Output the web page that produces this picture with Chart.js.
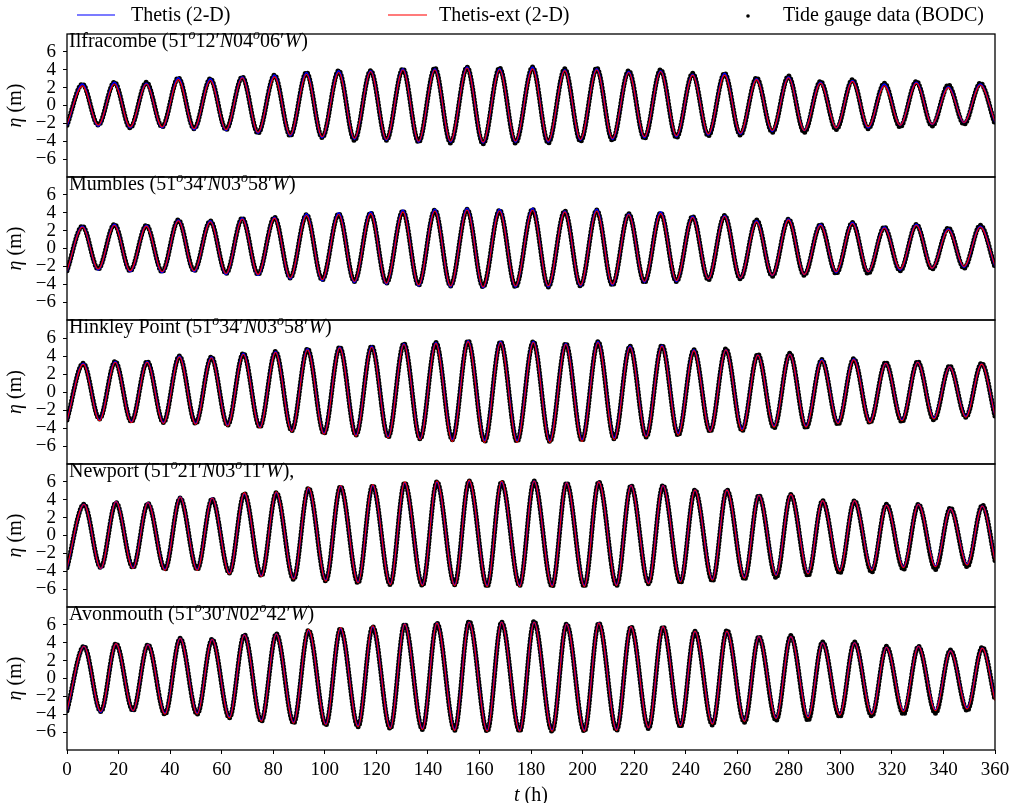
<!DOCTYPE html>
<html lang="en">
<head>
<meta charset="UTF-8">
<title>Tide gauge comparison</title>
<script src="https://cdn.jsdelivr.net/npm/chart.js"></script>
<style>
    body { margin: 0; background: #ffffff; }
    #wrap { position: relative; width: 1010px; height: 803px; }
    #wrap canvas { position: absolute; left: 0; }
</style>
</head>
<body>
<div id="wrap"></div>
<script>
// axis ticks
const xTicks = [0, 20, 40, 60, 80, 100, 120, 140, 160, 180, 200, 220, 240, 260, 280, 300, 320, 340, 360];
const yTicks = [-6, -4, -2, 0, 2, 4, 6];
const legendLabels = ['Thetis (2-D)', 'Thetis-ext (2-D)', 'Tide gauge data (BODC)'];

// stations: name, [lat deg, lat min, lon deg, lon min], trailing text
const stationNames = ['Ilfracombe', 'Mumbles', 'Hinkley Point', 'Newport', 'Avonmouth'];
const stationCoords = [['51', '12', '04', '06'], ['51', '34', '03', '58'], ['51', '34', '03', '58'], ['51', '21', '03', '11'], ['51', '30', '02', '42']];
const stationTail = ['', '', '', ',', ''];

// times of high / low water (h)
const hwOuter = [6.0, 18.4, 30.8, 43.2, 55.6, 68.0, 80.5, 92.9, 105.4, 117.8, 130.3, 142.7, 155.2, 167.8, 180.6, 193.1, 205.5, 217.9, 230.3, 242.7, 255.1, 267.5, 279.9, 292.3, 304.7, 317.1, 329.5, 341.9, 354.3];
const lwOuter = [12.1, 24.5, 36.9, 49.3, 61.7, 74.1, 86.6, 99.0, 111.5, 123.9, 136.4, 148.8, 161.4, 174.0, 186.7, 199.2, 211.6, 224.0, 236.4, 248.8, 261.2, 273.6, 286.0, 298.4, 310.8, 323.2, 335.6, 348.0];
const hwMid = [6.3, 18.7, 31.1, 43.6, 56.0, 68.4, 80.9, 93.3, 105.8, 118.2, 130.7, 143.1, 155.6, 168.2, 180.9, 193.5, 206.0, 218.4, 230.8, 243.2, 255.6, 268.0, 280.4, 292.8, 305.2, 317.6, 330.0, 342.4, 354.8];
const lwMid = [12.6, 25.0, 37.4, 49.9, 62.3, 74.8, 87.2, 99.7, 112.1, 124.6, 137.0, 149.5, 162.0, 174.6, 187.3, 199.8, 212.3, 224.7, 237.1, 249.5, 261.9, 274.3, 286.7, 299.1, 311.5, 323.9, 336.3, 348.7];
const hwInner = [6.6, 19.0, 31.4, 43.9, 56.3, 68.8, 81.2, 93.7, 106.1, 118.6, 131.0, 143.5, 156.0, 168.6, 181.2, 193.8, 206.3, 218.8, 231.2, 243.6, 256.0, 268.4, 280.8, 293.1, 305.5, 317.9, 330.3, 342.7, 355.1];
const lwInner = [13.1, 25.6, 38.0, 50.5, 63.0, 75.4, 87.9, 100.4, 112.9, 125.4, 137.9, 150.4, 163.0, 175.6, 188.2, 200.7, 213.2, 225.6, 238.0, 250.4, 262.8, 275.1, 287.5, 299.8, 312.2, 324.5, 336.9, 349.2];

// Ilfracombe (m): values at t=0 / t=360 are [gauge, Thetis, Thetis-ext]
const ilfStart = [-2.2, -2.3, -2.1];
const ilfEnd = [-2.1, -1.9, -1.8];
const ilfObsHigh = [2.4, 2.6, 2.6, 3.1, 3.0, 3.2, 3.4, 3.7, 3.9, 3.9, 4.1, 4.2, 4.3, 4.2, 4.3, 4.1, 4.2, 3.9, 4.0, 3.6, 3.6, 3.1, 3.3, 2.7, 2.9, 2.5, 2.7, 2.3, 2.5];
const ilfObsLow = [-2.2, -2.5, -2.4, -2.6, -2.7, -3.1, -3.4, -3.6, -3.9, -3.9, -4.1, -4.2, -4.3, -4.2, -4.2, -4.0, -3.9, -3.7, -3.6, -3.4, -3.3, -3.0, -3.0, -2.7, -2.6, -2.4, -2.3, -2.1];
const ilfThHigh = [2.4, 2.6, 2.5, 3.1, 3.0, 3.2, 3.4, 3.7, 3.9, 3.9, 4.1, 4.1, 4.3, 4.1, 4.3, 4.0, 4.1, 3.8, 3.9, 3.5, 3.6, 3.0, 3.2, 2.6, 2.8, 2.4, 2.6, 2.1, 2.4];
const ilfThLow = [-2.3, -2.5, -2.5, -2.7, -2.8, -3.1, -3.4, -3.6, -3.8, -3.9, -4.1, -4.1, -4.2, -4.1, -4.1, -3.9, -3.8, -3.6, -3.5, -3.3, -3.2, -2.9, -2.8, -2.5, -2.5, -2.2, -2.1, -1.9];
const ilfExHigh = [2.2, 2.4, 2.4, 2.9, 2.8, 3.1, 3.2, 3.5, 3.7, 3.8, 4.0, 4.0, 4.2, 4.0, 4.1, 3.9, 4.0, 3.7, 3.8, 3.4, 3.4, 2.9, 3.1, 2.5, 2.7, 2.2, 2.5, 2.0, 2.3];
const ilfExLow = [-2.2, -2.4, -2.4, -2.6, -2.7, -3.0, -3.3, -3.5, -3.7, -3.8, -4.0, -4.0, -4.1, -4.0, -4.0, -3.8, -3.7, -3.5, -3.4, -3.2, -3.1, -2.8, -2.8, -2.5, -2.4, -2.2, -2.1, -1.9];

// Mumbles
const mumStart = [-2.5, -2.6, -2.5];
const mumEnd = [-2.1, -2.0, -1.9];
const mumObsHigh = [2.5, 2.7, 2.6, 3.2, 3.1, 3.4, 3.5, 3.8, 3.9, 4.0, 4.2, 4.3, 4.4, 4.3, 4.4, 4.2, 4.3, 3.9, 4.0, 3.6, 3.7, 3.2, 3.3, 2.7, 2.9, 2.4, 2.7, 2.3, 2.6];
const mumObsLow = [-2.3, -2.5, -2.6, -2.5, -2.8, -2.9, -3.3, -3.5, -3.7, -3.9, -4.1, -4.2, -4.3, -4.3, -4.3, -4.2, -4.1, -3.8, -3.7, -3.5, -3.4, -3.1, -3.0, -2.8, -2.8, -2.5, -2.3, -2.2];
const mumThHigh = [2.5, 2.7, 2.6, 3.2, 3.1, 3.4, 3.5, 3.9, 4.0, 4.1, 4.3, 4.4, 4.5, 4.4, 4.5, 4.2, 4.4, 3.9, 4.1, 3.6, 3.7, 3.1, 3.3, 2.7, 2.9, 2.4, 2.7, 2.2, 2.5];
const mumThLow = [-2.4, -2.6, -2.7, -2.6, -2.9, -3.0, -3.4, -3.6, -3.8, -4.0, -4.2, -4.3, -4.4, -4.3, -4.3, -4.2, -4.1, -3.8, -3.7, -3.4, -3.3, -3.0, -2.9, -2.7, -2.6, -2.4, -2.2, -2.1];
const mumExHigh = [2.4, 2.6, 2.5, 3.1, 3.0, 3.3, 3.4, 3.7, 3.8, 3.9, 4.1, 4.2, 4.3, 4.2, 4.3, 4.1, 4.2, 3.8, 3.9, 3.5, 3.6, 3.0, 3.2, 2.6, 2.8, 2.3, 2.6, 2.1, 2.4];
const mumExLow = [-2.3, -2.5, -2.6, -2.5, -2.8, -2.9, -3.3, -3.5, -3.7, -3.9, -4.1, -4.2, -4.3, -4.2, -4.2, -4.1, -4.0, -3.7, -3.6, -3.4, -3.3, -3.0, -2.9, -2.6, -2.6, -2.3, -2.2, -2.0];

// Hinkley Point
const hinStart = [-3.1, -3.2, -3.2];
const hinEnd = [-2.7, -2.6, -2.6];
const hinObsHigh = [3.2, 3.4, 3.4, 4.0, 3.9, 4.3, 4.5, 4.8, 5.0, 5.1, 5.4, 5.5, 5.7, 5.6, 5.6, 5.4, 5.6, 5.1, 5.2, 4.7, 4.8, 4.2, 4.3, 3.6, 3.7, 3.3, 3.4, 2.9, 3.2];
const hinObsLow = [-3.0, -3.3, -3.4, -3.5, -3.7, -3.9, -4.3, -4.6, -4.8, -5.0, -5.2, -5.3, -5.5, -5.5, -5.5, -5.4, -5.2, -5.0, -4.8, -4.4, -4.3, -4.0, -4.0, -3.6, -3.4, -3.3, -3.1, -2.8];
const hinThHigh = [3.2, 3.4, 3.4, 4.0, 3.9, 4.3, 4.5, 4.8, 5.0, 5.1, 5.4, 5.5, 5.7, 5.6, 5.6, 5.4, 5.6, 5.1, 5.2, 4.7, 4.7, 4.1, 4.2, 3.6, 3.7, 3.2, 3.3, 2.8, 3.1];
const hinThLow = [-3.1, -3.3, -3.4, -3.5, -3.7, -3.9, -4.3, -4.6, -4.8, -5.0, -5.2, -5.3, -5.4, -5.4, -5.4, -5.3, -5.1, -4.9, -4.6, -4.3, -4.1, -3.8, -3.8, -3.4, -3.3, -3.1, -2.9, -2.7];
const hinExHigh = [3.1, 3.3, 3.3, 3.9, 3.8, 4.2, 4.4, 4.7, 4.9, 5.0, 5.3, 5.4, 5.6, 5.5, 5.5, 5.3, 5.5, 5.0, 5.1, 4.6, 4.7, 4.1, 4.2, 3.5, 3.6, 3.2, 3.3, 2.8, 3.1];
const hinExLow = [-3.2, -3.4, -3.5, -3.6, -3.8, -4.0, -4.4, -4.7, -4.9, -5.1, -5.3, -5.5, -5.6, -5.6, -5.6, -5.5, -5.3, -5.0, -4.8, -4.4, -4.3, -3.9, -3.9, -3.5, -3.4, -3.2, -3.0, -2.8];

// Newport
const newStart = [-3.6, -3.7, -3.6];
const newEnd = [-2.8, -2.7, -2.8];
const newObsHigh = [3.5, 3.7, 3.6, 4.2, 4.1, 4.7, 4.8, 5.3, 5.5, 5.6, 5.9, 6.0, 6.1, 6.0, 6.1, 5.9, 6.0, 5.6, 5.6, 5.1, 5.1, 4.5, 4.6, 3.9, 3.9, 3.5, 3.5, 3.1, 3.4];
const newObsLow = [-3.6, -3.6, -3.8, -3.8, -4.2, -4.5, -4.9, -5.1, -5.3, -5.5, -5.6, -5.5, -5.7, -5.6, -5.7, -5.7, -5.6, -5.4, -5.3, -5.1, -4.9, -4.7, -4.5, -4.2, -4.1, -3.8, -3.8, -3.5];
const newThHigh = [3.5, 3.8, 3.7, 4.3, 4.2, 4.7, 4.8, 5.3, 5.5, 5.6, 5.9, 6.0, 6.1, 6.0, 6.1, 5.9, 6.0, 5.6, 5.6, 5.1, 5.1, 4.5, 4.6, 3.9, 3.9, 3.4, 3.5, 3.0, 3.3];
const newThLow = [-3.7, -3.6, -3.8, -3.8, -4.2, -4.5, -4.8, -5.0, -5.2, -5.4, -5.5, -5.5, -5.6, -5.6, -5.6, -5.6, -5.5, -5.3, -5.1, -4.9, -4.7, -4.4, -4.2, -3.9, -3.8, -3.5, -3.4, -3.2];
const newExHigh = [3.5, 3.8, 3.7, 4.3, 4.2, 4.8, 4.9, 5.4, 5.6, 5.7, 6.0, 6.1, 6.2, 6.1, 6.1, 5.9, 6.0, 5.6, 5.6, 5.1, 5.1, 4.5, 4.6, 3.9, 3.9, 3.4, 3.5, 3.0, 3.3];
const newExLow = [-3.7, -3.7, -3.9, -3.9, -4.3, -4.6, -4.9, -5.1, -5.3, -5.5, -5.6, -5.6, -5.7, -5.7, -5.7, -5.7, -5.6, -5.4, -5.2, -5.0, -4.8, -4.5, -4.3, -4.0, -3.9, -3.6, -3.5, -3.3];

// Avonmouth
const avoStart = [-3.6, -3.7, -3.6];
const avoEnd = [-2.4, -2.3, -2.5];
const avoObsHigh = [3.6, 3.9, 3.8, 4.5, 4.4, 4.9, 5.0, 5.4, 5.6, 5.8, 6.1, 6.2, 6.4, 6.3, 6.4, 6.1, 6.2, 5.8, 5.8, 5.3, 5.4, 4.7, 4.8, 4.1, 4.1, 3.6, 3.6, 3.2, 3.5];
const avoObsLow = [-3.7, -3.6, -4.0, -4.0, -4.4, -4.8, -5.0, -5.2, -5.4, -5.6, -5.7, -5.8, -5.9, -5.9, -5.9, -5.9, -5.8, -5.6, -5.4, -5.2, -4.9, -4.7, -4.7, -4.3, -4.2, -4.0, -3.9, -3.6];
const avoThHigh = [3.6, 3.9, 3.8, 4.5, 4.4, 4.9, 5.0, 5.4, 5.6, 5.8, 6.1, 6.2, 6.3, 6.3, 6.3, 6.1, 6.2, 5.8, 5.8, 5.3, 5.3, 4.7, 4.7, 4.0, 4.0, 3.5, 3.6, 3.1, 3.4];
const avoThLow = [-3.8, -3.6, -3.9, -3.9, -4.3, -4.7, -4.9, -5.1, -5.3, -5.5, -5.6, -5.7, -5.8, -5.8, -5.8, -5.8, -5.7, -5.5, -5.2, -5.0, -4.7, -4.4, -4.3, -4.0, -3.9, -3.6, -3.5, -3.3];
const avoExHigh = [3.6, 3.9, 3.8, 4.5, 4.4, 4.9, 5.0, 5.5, 5.7, 5.9, 6.1, 6.2, 6.3, 6.3, 6.3, 6.1, 6.2, 5.8, 5.8, 5.3, 5.3, 4.7, 4.7, 4.0, 4.0, 3.5, 3.6, 3.1, 3.4];
const avoExLow = [-3.7, -3.6, -4.0, -4.0, -4.4, -4.8, -5.0, -5.2, -5.4, -5.6, -5.7, -5.8, -5.9, -5.9, -5.9, -5.9, -5.8, -5.5, -5.3, -5.1, -4.8, -4.5, -4.4, -4.1, -4.0, -3.7, -3.6, -3.4];

const panels = [
    { hw: hwOuter, lw: lwOuter, start: ilfStart, end: ilfEnd, high: [ilfObsHigh, ilfThHigh, ilfExHigh], low: [ilfObsLow, ilfThLow, ilfExLow] },
    { hw: hwOuter, lw: lwOuter, start: mumStart, end: mumEnd, high: [mumObsHigh, mumThHigh, mumExHigh], low: [mumObsLow, mumThLow, mumExLow] },
    { hw: hwMid, lw: lwMid, start: hinStart, end: hinEnd, high: [hinObsHigh, hinThHigh, hinExHigh], low: [hinObsLow, hinThLow, hinExLow] },
    { hw: hwInner, lw: lwInner, start: newStart, end: newEnd, high: [newObsHigh, newThHigh, newExHigh], low: [newObsLow, newThLow, newExLow] },
    { hw: hwInner, lw: lwInner, start: avoStart, end: avoEnd, high: [avoObsHigh, avoThHigh, avoExHigh], low: [avoObsLow, avoThLow, avoExLow] }
];

const FONT = '"Liberation Serif", "Times New Roman", serif';
const panelEdges = [34, 177, 320, 464, 607, 750];  // pixel rows of the panel borders

// join the high and low waters of one series into x/y points
function series(p, k) {
    const pts = [{ x: 0, y: p.start[k] }];
    for (let i = 0; i < p.hw.length; i++) {
        pts.push({ x: p.hw[i], y: p.high[k][i] });
        if (i < p.lw.length) pts.push({ x: p.lw[i], y: p.low[k][i] });
    }
    pts.push({ x: 360, y: p.end[k] });
    return pts;
}

// text with italic and superscript parts
function drawRich(ctx, x, y, segs, size) {
    for (const s of segs) {
        let f = size, dy = 0, style = '';
        if (s.k === 'i') style = 'italic ';
        if (s.k === 's') { style = 'italic '; f = size * 0.7; dy = -size * 0.4; }
        ctx.font = style + f + 'px ' + FONT;
        ctx.fillText(s.t, x, y + dy);
        x += ctx.measureText(s.t).width;
    }
    return x;
}

function richWidth(ctx, segs, size) {
    let w = 0;
    for (const s of segs) {
        let f = size, style = '';
        if (s.k === 'i') style = 'italic ';
        if (s.k === 's') { style = 'italic '; f = size * 0.7; }
        ctx.font = style + f + 'px ' + FONT;
        w += ctx.measureText(s.t).width;
    }
    return w;
}

function titleSegs(i) {
    const c = stationCoords[i];
    return [
        { t: stationNames[i] + ' (' + c[0], k: 'n' }, { t: 'o', k: 's' }, { t: c[1] + '\u2032', k: 'n' }, { t: 'N', k: 'i' },
        { t: c[2], k: 'n' }, { t: 'o', k: 's' }, { t: c[3] + '\u2032', k: 'n' }, { t: 'W', k: 'i' }, { t: ')' + stationTail[i], k: 'n' }
    ];
}

const panelDeco = {
    id: 'panelDeco',
    afterDraw(chart, args, opts) {
        const { ctx, chartArea: a } = chart;
        ctx.save();
        ctx.strokeStyle = '#000';
        ctx.lineWidth = 1.3;
        ctx.strokeRect(a.left, a.top, a.right - a.left, a.bottom - a.top);

        ctx.fillStyle = '#000';
        ctx.textAlign = 'left';
        ctx.textBaseline = 'alphabetic';
        drawRich(ctx, a.left + 2, a.top + 13, titleSegs(opts.index), 20);

        // y axis title
        const ySegs = [{ t: '\u03b7', k: 'i' }, { t: ' (m)', k: 'n' }];
        ctx.save();
        ctx.translate(21, (a.top + a.bottom) / 2);
        ctx.rotate(-Math.PI / 2);
        ctx.textBaseline = 'alphabetic';
        drawRich(ctx, -richWidth(ctx, ySegs, 20) / 2, 0, ySegs, 20);
        ctx.restore();

        if (opts.legend) {
            ctx.textBaseline = 'middle';
            ctx.font = '20px ' + FONT;
            ctx.lineWidth = 1.5;
            ctx.strokeStyle = 'rgba(60,60,255,0.9)';
            ctx.beginPath(); ctx.moveTo(77, 15); ctx.lineTo(115, 15); ctx.stroke();
            ctx.fillText(legendLabels[0], 131, 16);
            ctx.strokeStyle = 'rgba(255,60,60,0.9)';
            ctx.beginPath(); ctx.moveTo(388, 15); ctx.lineTo(427, 15); ctx.stroke();
            ctx.fillText(legendLabels[1], 439, 16);
            ctx.beginPath(); ctx.arc(748, 16, 1.8, 0, Math.PI * 2); ctx.fill();
            ctx.fillText(legendLabels[2], 783, 16);
        }
        if (opts.xTitle) {
            const xSegs = [{ t: 't', k: 'i' }, { t: ' (h)', k: 'n' }];
            const w = richWidth(ctx, xSegs, 20);
            ctx.textBaseline = 'alphabetic';
            drawRich(ctx, (a.left + a.right) / 2 - w / 2, a.bottom + 51, xSegs, 20);
        }
        ctx.restore();
    }
};

const wrap = document.getElementById('wrap');

panels.forEach((p, i) => {
    const top = panelEdges[i], bottom = panelEdges[i + 1];
    const first = i === 0, last = i === panels.length - 1;
    const cTop = first ? 0 : top - 6;
    const cBottom = last ? 803 : bottom + 6;
    const canvas = document.createElement('canvas');
    canvas.width = 1010;
    canvas.height = cBottom - cTop;
    canvas.style.top = cTop + 'px';
    wrap.appendChild(canvas);

    new Chart(canvas, {
        type: 'line',
        data: {
            datasets: [
                { label: legendLabels[1], data: series(p, 2), borderColor: '#ff0000', borderWidth: 1.1, pointRadius: 0, fill: false },
                { label: legendLabels[0], data: series(p, 1), borderColor: '#0000ff', borderWidth: 1.5, pointRadius: 0, fill: false },
                { label: legendLabels[2], data: series(p, 0), borderColor: '#000000', borderWidth: 5, borderDash: [0, 3.3], borderCapStyle: 'round', pointRadius: 0, fill: false }
            ]
        },
        options: {
            responsive: false,
            animation: false,
            devicePixelRatio: 1,
            events: [],
            elements: { line: { cubicInterpolationMode: 'monotone' } },
            layout: { padding: { left: 0, right: 15, top: top - cTop, bottom: last ? 0 : cBottom - bottom } },
            plugins: {
                legend: { display: false },
                tooltip: { enabled: false },
                panelDeco: { index: i, legend: first, xTitle: last }
            },
            scales: {
                x: {
                    type: 'linear', min: 0, max: 360, display: last,
                    afterBuildTicks: s => { s.ticks = xTicks.map(v => ({ value: v })); },
                    afterFit: s => { s.height = last ? 803 - 750 : 0; s.paddingLeft = 0; s.paddingRight = 0; },
                    ticks: { autoSkip: false, maxRotation: 0, padding: 5, color: '#000', font: { family: FONT, size: 19 } },
                    grid: { drawOnChartArea: false, drawTicks: true, tickLength: 4, color: '#000', lineWidth: 1 },
                    border: { display: false }
                },
                y: {
                    type: 'linear', min: -8, max: 8,
                    afterBuildTicks: s => { s.ticks = yTicks.map(v => ({ value: v })); },
                    afterFit: s => { s.width = 67; s.paddingTop = 0; s.paddingBottom = 0; },
                    ticks: {
                        autoSkip: false, padding: 7, color: '#000', font: { family: FONT, size: 19 },
                        callback: v => (v < 0 ? '\u2212' + (-v) : String(v))
                    },
                    grid: { drawOnChartArea: false, drawTicks: true, tickLength: 4, color: '#000', lineWidth: 1 },
                    border: { display: false }
                }
            }
        },
        plugins: [panelDeco]
    });
});
</script>
</body>
</html>
